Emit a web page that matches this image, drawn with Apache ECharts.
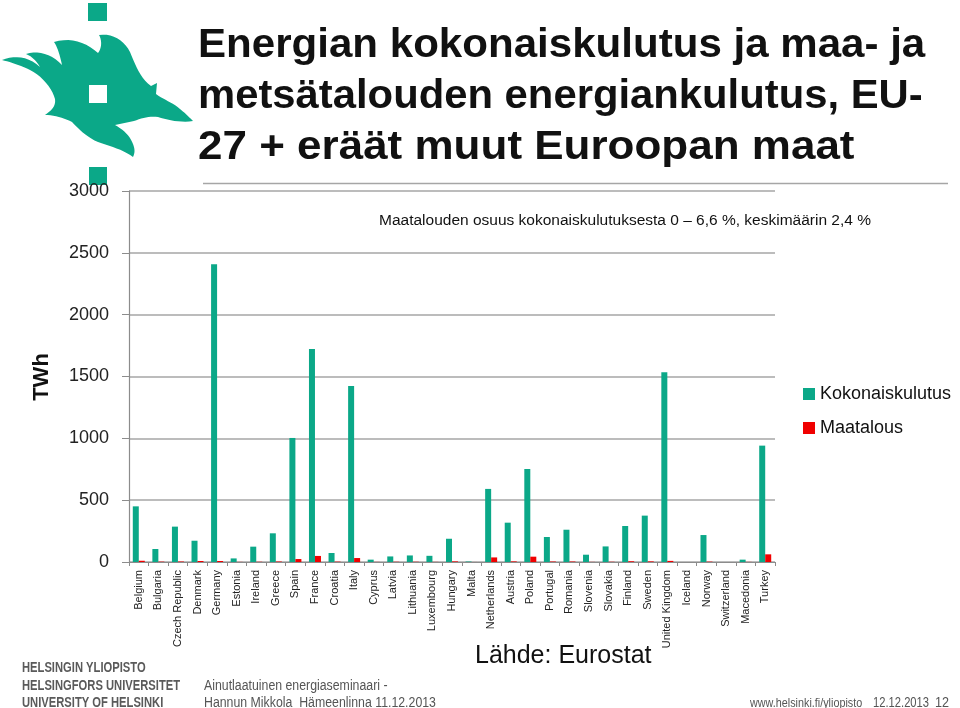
<!DOCTYPE html>
<html><head><meta charset="utf-8">
<script src="https://cdn.jsdelivr.net/npm/echarts@6/dist/echarts.min.js"></script>
<style>html,body{margin:0;padding:0;background:#fff}#c{width:960px;height:708px}</style>
</head><body><div id="c"></div>
<script>
// ---- data ----
const categories = ['Belgium','Bulgaria','Czech Republic','Denmark','Germany','Estonia','Ireland','Greece','Spain','France','Croatia','Italy','Cyprus','Latvia','Lithuania','Luxembourg','Hungary','Malta','Netherlands','Austria','Poland','Portugal','Romania','Slovenia','Slovakia','Finland','Sweden','United Kingdom','Iceland','Norway','Switzerland','Macedonia','Turkey'];
const kokonaiskulutus = [450,105,286,172,2408,29,124,232,1003,1723,73,1424,19,45,53,50,188,4,591,318,752,202,261,59,126,291,375,1534,null,218,null,19,941];
const maatalous = [10,3,4,8,8,1,2,4,24,49,3,32,1,2,2,1,5,0.3,37,5,43,4,4,1,2,6,5,9,null,3,null,1,62];
const seriesNames = ['Kokonaiskulutus','Maatalous'];
const yMin = 0, yMax = 3000, yStep = 500;

const GREEN = '#0BA888', RED = '#F00000';
const FONT = '"Liberation Sans", Arial, sans-serif';

// logo outline (decoration), sampled to a polygon
const flamePath = 'M2,60 C14,55 28,56 40,67 C36,60 31,56 26,54 C38,50 52,54 62,65 C60,56 58,48 54,42 C70,37 86,42 98,53 C102,48 102,40 99,35 C112,33 124,40 130,52 C136,66 140,78 151,86 L157,83 L156,94 C164,100 172,102 180,109 C185,113 189,117 193,121 C180,123 168,120 158,117 C150,116 142,118 134,121 L115,125 C124,130 130,136 133,144 C135,149 135,153 133,157 C124,150 110,146 98,142 C86,137 78,128 72,122 C64,118 54,115 45,115 C52,110 56,106 55,99 C52,88 42,76 30,70 C20,65 10,62 2,60 Z';
function samplePath(d){
  const tok = d.match(/[MCLZ]|-?\d+(\.\d+)?/g); const pts=[]; let i=0, cur=[0,0], cmd='';
  while(i<tok.length){
    if(/[MCLZ]/.test(tok[i])){cmd=tok[i++]; if(cmd==='Z') continue;}
    if(cmd==='M'||cmd==='L'){cur=[+tok[i],+tok[i+1]]; i+=2; pts.push(cur);}
    else if(cmd==='C'){
      const p1=[+tok[i],+tok[i+1]],p2=[+tok[i+2],+tok[i+3]],p3=[+tok[i+4],+tok[i+5]]; i+=6;
      for(let k=1;k<=10;k++){const t=k/10,u=1-t;
        pts.push([u*u*u*cur[0]+3*u*u*t*p1[0]+3*u*t*t*p2[0]+t*t*t*p3[0], u*u*u*cur[1]+3*u*u*t*p1[1]+3*u*t*t*p2[1]+t*t*t*p3[1]]);}
      cur=p3;
    } else i++;
  }
  return pts;
}

const chart = echarts.init(document.getElementById('c'), null, {renderer:'canvas'});
const txt = (x,y,text,font,color,sx,align) => ({type:'text', x, y, scaleX:sx||1, style:{text, font, fill:color||'#111', textVerticalAlign:'middle', textAlign:align||'left'}});

chart.setOption({
  backgroundColor:'#fff',
  animation:false,
  grid:{left:129, right:185, top:191, bottom:146, containLabel:false},
  legend:{orient:'vertical', left:798, top:380, itemWidth:12, itemHeight:12, itemGap:16, icon:'rect',
    textStyle:{fontSize:18, color:'#111', fontFamily:FONT}, data:seriesNames},
  xAxis:{type:'category', data:categories,
    axisLine:{lineStyle:{color:'#8c8c8c', width:1.2}},
    axisTick:{show:true, length:4, lineStyle:{color:'#8c8c8c'}},
    axisLabel:{rotate:90, fontSize:11, color:'#222', fontFamily:FONT, margin:8, interval:0}},
  yAxis:{type:'value', min:yMin, max:yMax, interval:yStep,
    axisLine:{show:true, lineStyle:{color:'#8c8c8c', width:1.2}},
    axisTick:{show:true, length:7, lineStyle:{color:'#8c8c8c'}},
    axisLabel:{fontSize:18, color:'#222', fontFamily:FONT, margin:20, formatter:v=>String(v)},
    splitLine:{lineStyle:{color:'#a6a6a6', width:1.5}}},
  series:[
    {name:seriesNames[0], type:'bar', data:kokonaiskulutus, barWidth:6, barGap:'0%', itemStyle:{color:GREEN}},
    {name:seriesNames[1], type:'bar', data:maatalous, barWidth:6, barGap:'0%', itemStyle:{color:RED}}
  ],
  graphic:[
    {type:'polygon', shape:{points:samplePath(flamePath)}, style:{fill:GREEN}},
    {type:'rect', shape:{x:88,y:3,width:19,height:18}, style:{fill:GREEN}},
    {type:'rect', shape:{x:89,y:85,width:18,height:18}, style:{fill:'#fff'}},
    {type:'rect', shape:{x:89,y:167,width:18,height:18}, style:{fill:GREEN}},
    txt(198,46,'Energian kokonaiskulutus ja maa- ja','bold 40px '+FONT,'#111',1.052),
    txt(198,97,'metsätalouden energiankulutus, EU-','bold 40px '+FONT,'#111',1.045),
    txt(198,148,'27 + eräät muut Euroopan maat','bold 40px '+FONT,'#111',1.10),
    {type:'line', shape:{x1:203,y1:183.5,x2:948,y2:183.5}, style:{stroke:'#a6a6a6', lineWidth:1.5}},
    txt(379,221,'Maatalouden osuus kokonaiskulutuksesta 0 – 6,6 %, keskimäärin 2,4 %','15.5px '+FONT,'#111'),
    {type:'text', x:42, y:377, rotation:Math.PI/2, style:{text:'TWh', font:'bold 22px '+FONT, fill:'#111', textAlign:'center', textVerticalAlign:'middle'}},
    txt(475,656,'Lähde: Eurostat','25px '+FONT,'#111'),
    txt(22,668,'HELSINGIN YLIOPISTO','bold 14px '+FONT,'#5a5a5a',0.8),
    txt(22,686,'HELSINGFORS UNIVERSITET','bold 14px '+FONT,'#5a5a5a',0.8),
    txt(22,703,'UNIVERSITY OF HELSINKI','bold 14px '+FONT,'#5a5a5a',0.8),
    txt(204,686,'Ainutlaatuinen energiaseminaari -','14px '+FONT,'#555',0.88),
    txt(204,703,'Hannun Mikkola  Hämeenlinna 11.12.2013','14px '+FONT,'#555',0.88),
    txt(750,703,'www.helsinki.fi/yliopisto','13.5px '+FONT,'#555',0.8),
    txt(873,703,'12.12.2013','14px '+FONT,'#555',0.8),
    txt(935,703,'12','14px '+FONT,'#555',0.9)
  ]
});
</script></body></html>
